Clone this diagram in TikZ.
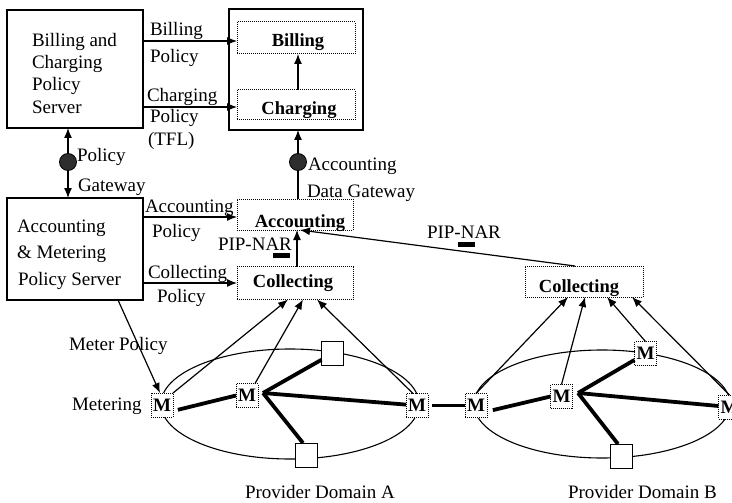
\documentclass[tikz,border=0pt]{standalone}
\usepackage{fontspec}
\setmainfont{Liberation Serif}
\usetikzlibrary{arrows.meta}
\begin{document}
\begin{tikzpicture}[x=1pt,y=-1pt,
  every node/.style={inner sep=0pt, outer sep=0pt},
  txt/.style={anchor=base west, font=\fontsize{19}{22}\selectfont},
  btxt/.style={anchor=base, font=\fontsize{18.5}{22}\selectfont\bfseries},
  server/.style={draw, line width=1.4pt},
  dbox/.style={draw, densely dotted, line width=1pt},
  mnode/.style={draw, densely dotted, line width=1pt, fill=white, minimum width=22pt, minimum height=24pt, font=\fontsize{19}{20}\selectfont\bfseries},
  sq/.style={draw, line width=0.8pt, fill=white, minimum width=22pt, minimum height=24pt},
  arr/.style={line width=1.2pt, -{Latex[length=10pt,width=8pt]}},
  plainline/.style={line width=1.2pt},
  thk/.style={line width=3.8pt},
  gw/.style={circle, draw, fill=black!82, minimum size=17pt, line width=0.8pt},
  blackbar/.style={fill=black, minimum width=17pt, minimum height=5pt},
  ring/.style={line width=1.1pt}
]
\useasboundingbox (0,0) rectangle (732,503);
\clip (0,0) rectangle (732,503);

% policy servers
\node[server, minimum width=136pt, minimum height=118pt] (bcs) at (75,69) {};
\node[txt] (bcs1) at (32,47) {Billing and};
\node[txt] (bcs2) at (32,68.5) {Charging};
\node[txt] (bcs3) at (32,91) {Policy};
\node[txt] (bcs4) at (32,113.5) {Server};

\node[server, minimum width=136pt, minimum height=102pt] (ams) at (75,249) {};
\node[txt] (ams1) at (17,232) {Accounting};
\node[txt] (ams2) at (17,258) {\& Metering};
\node[txt] (ams3) at (18,285) {Policy Server};

% billing / charging block
\node[server, minimum width=134pt, minimum height=121pt] (outer) at (296,69.5) {};
\node[dbox, minimum width=118pt, minimum height=32pt] (billing) at (296,38) {};
\node[btxt] (billingT) at (298,47) {Billing};
\node[dbox, minimum width=118pt, minimum height=30pt] (charging) at (296,105) {};
\node[btxt] (chargingT) at (299,115) {Charging};

% accounting / collecting
\node[dbox, minimum width=116pt, minimum height=31pt] (accounting) at (295,214.5) {};
\node[btxt] (accountingT) at (300,227) {Accounting};
\node[dbox, minimum width=116pt, minimum height=33pt] (collA) at (295,283) {};
\node[btxt] (collAT) at (293,287) {Collecting};
\node[dbox, minimum width=118pt, minimum height=31pt] (collB) at (584,281.5) {};
\node[btxt] (collBT) at (579,292) {Collecting};

% gateways
\node[gw] (gw1) at (68,162) {};
\node[gw] (gw2) at (298,162) {};

% policy flows
\path (billing.west) ++(0,3) coordinate (bIn);
\draw[arr] (bcs.east |- bIn) -- (bIn);
\path (charging.west) ++(0,2) coordinate (cIn);
\draw[arr] (bcs.east |- cIn) -- (cIn);
\draw[arr] ([xshift=2pt]charging.north) -- ([xshift=2pt]billing.south);
\draw[arr] (gw1) -- (gw1 |- bcs.south);
\draw[arr] (gw1) -- (gw1 |- ams.north);
\draw[arr] (gw2) -- (gw2 |- outer.south);
\draw[plainline] (gw2) -- (gw2 |- accounting.north);
\path (accounting.west) ++(0,2.5) coordinate (aIn);
\draw[arr] (ams.east |- aIn) -- (aIn);
\draw[arr] (ams.east |- collA.west) -- (collA.west);
\draw[arr] ([xshift=2pt]collA.north) -- ([xshift=2pt]accounting.south);
\draw[arr] ([xshift=-9pt]collB.north) -- ([xshift=5pt]accounting.south);

\node[txt] (lb1) at (150,36) {Billing};
\node[txt] (lb2) at (150,63) {Policy};
\node[txt] (lc1) at (147,102) {Charging};
\node[txt] (lc2) at (150,123) {Policy};
\node[txt] (lc3) at (148,146) {(TFL)};
\node[txt] (lg1) at (77,161) {Policy};
\node[txt] (lg2) at (78,191) {Gateway};
\node[txt] (ld1) at (308,170) {Accounting};
\node[txt] (ld2) at (307,197) {Data Gateway};
\node[txt] (la1) at (145,212) {Accounting};
\node[txt] (la2) at (152,237) {Policy};
\node[txt] (lk1) at (148,278) {Collecting};
\node[txt] (lk2) at (157,302) {Policy};
\node[txt] (pipA) at (218,250) {PIP-NAR};
\node[blackbar] (barA) at (281.5,255.5) {};
\node[txt] (pipB) at (427,238) {PIP-NAR};
\node[blackbar] (barB) at (466,244.5) {};
\node[txt] (lm) at (69,350) {Meter Policy};
\node[txt] (lmet) at (72,410) {Metering};
\node[txt] (domA) at (245,498) {Provider Domain A};
\node[txt] (domB) at (568,498) {Provider Domain B};

% provider domains
\draw[ring] (290,404) ellipse [x radius=129pt, y radius=55pt];
\draw[ring] (602,404) ellipse [x radius=128pt, y radius=54pt];

\node[mnode] (mA1) at (162,405) {M};
\node[mnode] (mA2) at (247,395.5) {M};
\node[sq] (sqA1) at (332.5,353.5) {};
\node[sq] (sqA2) at (306,455) {};
\node[mnode] (mA3) at (417,405.5) {M};
\node[mnode] (mB1) at (476,405.5) {M};
\node[mnode] (mB2) at (561.5,396.5) {M};
\node[mnode] (mB3) at (645.5,353.5) {M};
\node[sq] (sqB) at (621,456) {};
\node[mnode] (mB4) at (729.5,407) {M};

\coordinate (hubA) at (263,393);
\coordinate (hubB) at (578,393);

% network links
\draw[thk, shorten <=5pt] ([yshift=-6pt]mA1.east) -- (mA2.west);
\draw[thk] (hubA) -- (sqA1);
\draw[thk] (hubA) -- (mA3);
\draw[thk] (hubA) -- ([xshift=-3pt]sqA2.north);
\draw[thk, shorten <=4pt] (mA3.east) -- (mB1.west);
\draw[thk, shorten <=6pt] ([yshift=-6pt]mB1.east) -- (mB2.west);
\draw[thk] (hubB) -- (mB3);
\draw[thk] (hubB) -- (mB4);
\draw[thk] (hubB) -- ([xshift=-3pt]sqB.north);

% meter reports
\draw[arr] (mA1.north east) -- ([xshift=-7pt]collA.south);
\draw[arr] ([xshift=-3pt]mA2.north east) -- ([xshift=8pt]collA.south);
\draw[arr] ([xshift=-4pt]mA3.north) -- ([xshift=22pt]collA.south);
\draw[arr] (mB1.north) -- ([xshift=-16pt]collB.south);
\draw[arr] (mB2.north) -- ([xshift=1pt]collB.south);
\draw[arr] (mB3.north) -- ([xshift=23pt]collB.south);
\draw[arr] (mB4.north) -- ([xshift=48pt]collB.south);
\draw[arr] ([xshift=43pt]ams.south) -- ([xshift=-2pt]mA1.north);
\end{tikzpicture}
\end{document}
